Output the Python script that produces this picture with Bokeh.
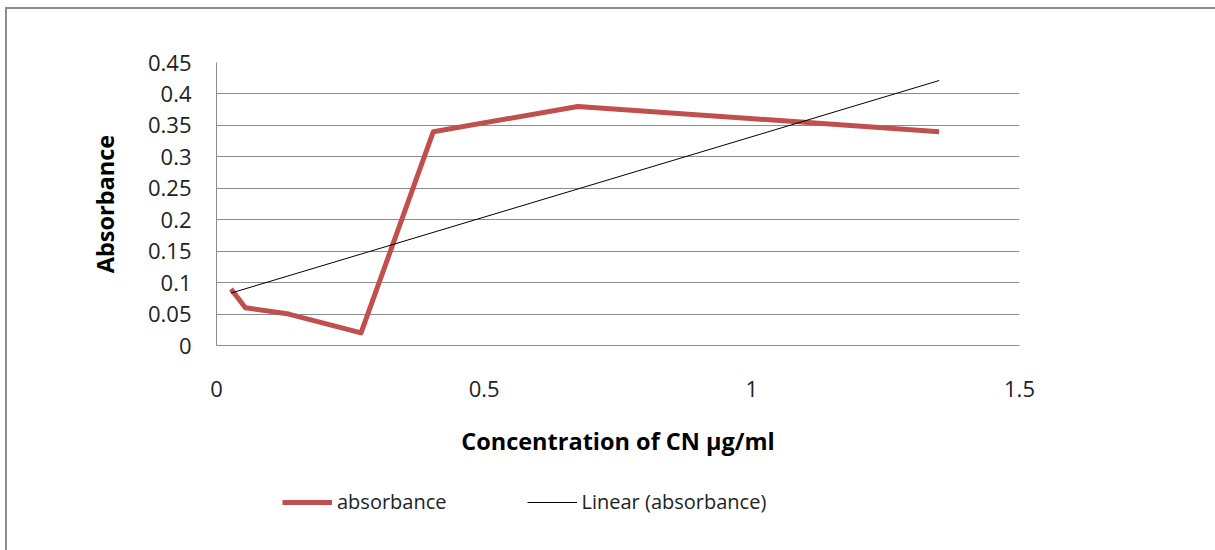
import numpy as np
from bokeh.plotting import figure
from bokeh.layouts import column
from bokeh.models import Legend, LegendItem, FixedTicker, CustomJSTickFormatter, Range1d
from bokeh.embed import file_html
from bokeh.resources import INLINE

# Data
concentration = [0.027, 0.054, 0.135, 0.27, 0.405, 0.675, 1.35]
absorbance = [0.09, 0.06, 0.05, 0.02, 0.34, 0.38, 0.34]
x_ticks = [0, 0.5, 1, 1.5]
y_ticks = [0, 0.05, 0.1, 0.15, 0.2, 0.25, 0.3, 0.35, 0.4, 0.45]
series_names = ["absorbance", "Linear (absorbance)"]

# Linear trendline (least squares) over data span
slope, intercept = np.polyfit(concentration, absorbance, 1)
trend_x = [min(concentration), max(concentration)]
trend_y = [slope * v + intercept for v in trend_x]

FONT = "Open Sans"
GRID = "#8c8c8c"
RED = "#C0504D"

p = figure(frame_width=803, frame_height=283, output_backend="svg", toolbar_location=None,
           x_range=Range1d(0, 1.5), y_range=Range1d(0, 0.45),
           min_border_left=209, min_border_right=196, min_border_top=53, min_border_bottom=130)
p.outline_line_color = None
p.background_fill_color = "white"
p.border_fill_color = "white"

p.line(concentration, absorbance, line_color=RED, line_width=5, line_join="round")
p.line(trend_x, trend_y, line_color="black", line_width=1)

fmt = CustomJSTickFormatter(code="return parseFloat(tick.toFixed(2)).toString();")

p.xaxis.ticker = FixedTicker(ticks=x_ticks)
p.yaxis.ticker = FixedTicker(ticks=y_ticks)
p.xaxis.formatter = fmt
p.yaxis.formatter = fmt
for ax in (p.xaxis, p.yaxis):
    ax.major_tick_line_color = None
    ax.minor_tick_line_color = None
    ax.axis_line_color = GRID
    ax.major_label_text_font = FONT
    ax.major_label_text_font_size = "22px"
    ax.major_label_text_color = "#222222"
    ax.axis_label_text_font = FONT
    ax.axis_label_text_font_size = "23.5px"
    ax.axis_label_text_font_style = "bold"
    ax.axis_label_text_color = "black"

p.xaxis.axis_label = "Concentration of CN µg/ml"
p.yaxis.axis_label = "Absorbance"
p.xaxis.major_label_standoff = 29
p.xaxis.axis_label_standoff = 25
p.yaxis.major_label_standoff = 19
p.yaxis.axis_label_standoff = 24

p.xgrid.grid_line_color = None
p.ygrid.grid_line_color = GRID
p.ygrid.grid_line_width = 1

# Legend strip below the chart (separate figure so the legend is not clipped)
leg = figure(width=1208, height=75, output_backend="svg", toolbar_location=None,
             x_range=Range1d(0, 1208), y_range=Range1d(0, 75),
             x_axis_location=None, y_axis_location=None, min_border=0)
leg.outline_line_color = None
leg.grid.visible = False
leg.background_fill_color = "white"
leg.border_fill_color = "white"
# legend proxies (kept outside the visible range)
l_red = leg.line([-50, -40], [-50, -50], line_color=RED, line_width=5)
l_blk = leg.line([-50, -40], [-50, -50], line_color="black", line_width=1)

legend = Legend(items=[LegendItem(label=series_names[0], renderers=[l_red]),
                       LegendItem(label=series_names[1], renderers=[l_blk])],
                orientation="horizontal", location=(66, 35), margin=0, padding=10,
                label_text_font=FONT, label_text_font_size="20px",
                label_text_color="#222222",
                glyph_width=50, label_standoff=5, spacing=80,
                border_line_color=None, background_fill_alpha=0)
leg.add_layout(legend, "center")

layout = column(p, leg, spacing=0)
layout.styles = {"border-left": "2px solid #8c8c8c", "border-top": "2px solid #8c8c8c",
                 "margin-left": "5px", "margin-top": "7px"}

open("out.html", "w").write(file_html(layout, INLINE))
